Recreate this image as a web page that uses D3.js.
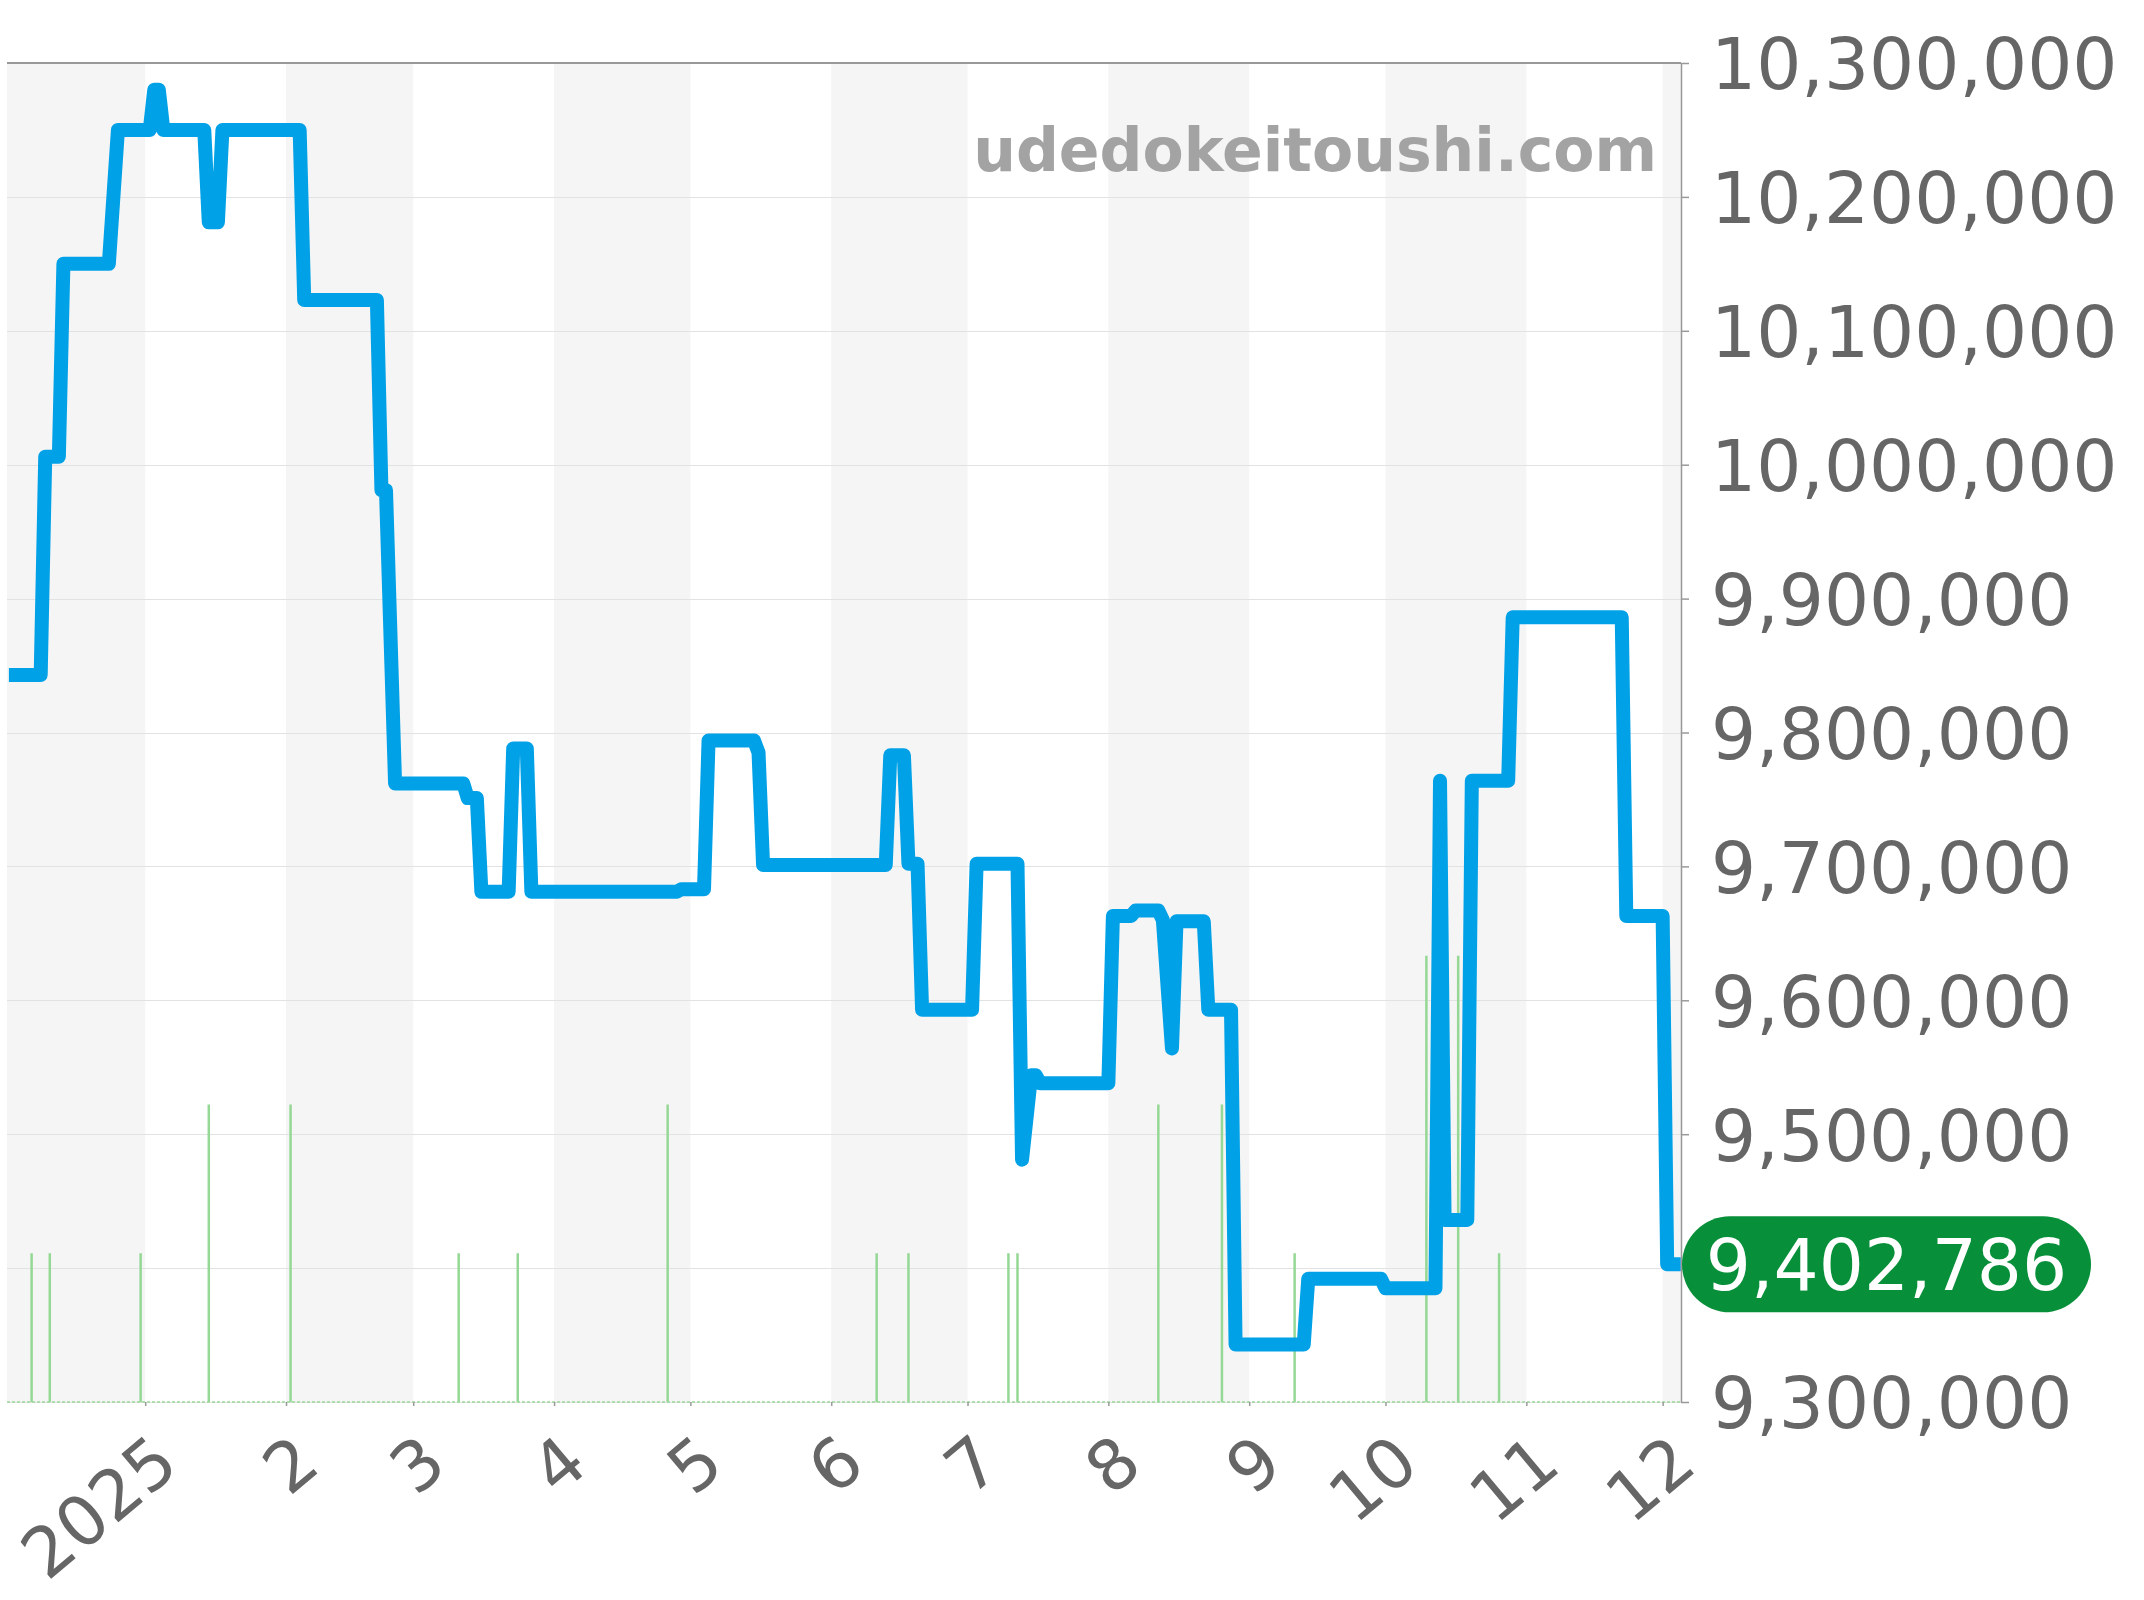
<!DOCTYPE html>
<html>
<head>
<meta charset="utf-8">
<script src="https://cdn.jsdelivr.net/npm/d3@7"></script>
<style>
  body { margin: 0; background: #fff; }
  svg { display: block; }
</style>
</head>
<body>
<div id="plot"></div>
<script>
// price vertices (yen)
var priceDates = [
  "2024-12-02", "2024-12-09", "2024-12-10", "2024-12-13", "2024-12-14", "2024-12-24", "2024-12-26",
  "2025-01-02", "2025-01-03", "2025-01-04", "2025-01-05", "2025-01-14", "2025-01-15", "2025-01-17", "2025-01-18",
  "2025-02-04", "2025-02-05", "2025-02-21", "2025-02-22", "2025-02-23", "2025-02-25",
  "2025-03-12", "2025-03-13", "2025-03-15", "2025-03-16", "2025-03-22", "2025-03-23", "2025-03-26", "2025-03-27",
  "2025-04-28", "2025-04-29", "2025-05-04", "2025-05-05", "2025-05-15", "2025-05-16", "2025-05-17",
  "2025-06-13", "2025-06-14", "2025-06-17", "2025-06-18", "2025-06-20", "2025-06-21",
  "2025-07-02", "2025-07-03", "2025-07-12", "2025-07-13", "2025-07-15", "2025-07-16", "2025-07-17",
  "2025-08-01", "2025-08-02", "2025-08-06", "2025-08-07", "2025-08-12", "2025-08-13", "2025-08-15", "2025-08-16",
  "2025-08-22", "2025-08-23", "2025-08-28", "2025-08-29",
  "2025-09-13", "2025-09-14", "2025-09-30", "2025-10-01", "2025-10-12", "2025-10-13", "2025-10-14",
  "2025-10-19", "2025-10-20", "2025-10-28", "2025-10-29", "2025-11-22", "2025-11-23",
  "2025-12-01", "2025-12-02", "2025-12-05"
];
var prices = [
  9843000, 9843000, 10006000, 10006000, 10150000, 10150000, 10250000,
  10250000, 10280000, 10280000, 10250000, 10250000, 10181000, 10181000, 10250000,
  10250000, 10123000, 10123000, 9981000, 9981000, 9762000,
  9762000, 9751000, 9751000, 9681000, 9681000, 9788000, 9788000, 9681000,
  9681000, 9683000, 9683000, 9794000, 9794000, 9785000, 9701000,
  9701000, 9783000, 9783000, 9702000, 9702000, 9593000,
  9593000, 9702000, 9702000, 9481000, 9544000, 9544000, 9538000,
  9538000, 9663000, 9663000, 9667000, 9667000, 9660000, 9564000, 9659000,
  9659000, 9593000, 9593000, 9343000,
  9343000, 9392000, 9392000, 9385000, 9385000, 9764000, 9436000,
  9436000, 9764000, 9764000, 9886000, 9886000, 9663000,
  9663000, 9402786, 9402786
];

// number of trades per day (green bars)
var volumeDates = [
  "2024-12-07", "2024-12-11", "2024-12-31", "2025-01-15", "2025-02-02", "2025-03-11",
  "2025-03-24", "2025-04-26", "2025-06-11", "2025-06-18", "2025-07-10", "2025-07-12",
  "2025-08-12", "2025-08-26", "2025-09-11", "2025-10-10", "2025-10-17", "2025-10-26"
];
var volumes = [1, 1, 1, 2, 2, 1, 1, 2, 1, 1, 1, 1, 2, 2, 1, 3, 3, 1];

var yTickValues = [9300000, 9400000, 9500000, 9600000, 9700000, 9800000,
  9900000, 10000000, 10100000, 10200000, 10300000];
var monthTicks = ["2025-01-01", "2025-02-01", "2025-03-01", "2025-04-01", "2025-05-01", "2025-06-01",
  "2025-07-01", "2025-08-01", "2025-09-01", "2025-10-01", "2025-11-01", "2025-12-01"];
var monthLabels = ["2025", "2", "3", "4", "5", "6", "7", "8", "9", "10", "11", "12"];

var parseDate = d3.utcParse("%Y-%m-%d");
var priceData = priceDates.map(function(d, i) {
  return { date: parseDate(d), value: prices[i] };
});
var volumeData = volumeDates.map(function(d, i) {
  return { date: parseDate(d), value: volumes[i] };
});
var tickDates = monthTicks.map(parseDate);

var margin = { top: 63, right: 463, bottom: 198, left: 7 };
var width = 2144 - margin.left - margin.right,
  height = 1600 - margin.top - margin.bottom;

var xScale = d3.scaleUtc()
  .domain([new Date(Date.UTC(2024, 11, 1, 14)), new Date(Date.UTC(2025, 11, 5, 1))])
  .range([0, width]);

var yScale = d3.scaleLinear()
  .domain([9300000, 10300000])
  .range([height, 0]);

var volScale = d3.scaleLinear()
  .domain([0, 9])
  .range([height, 0]);

var svg = d3.select("#plot").append("svg")
  .attr("width", 2144)
  .attr("height", 1600)
  .style("font-family", "'DejaVu Sans', sans-serif");

var g = svg.append("g")
  .attr("transform", "translate(" + margin.left + "," + margin.top + ")");

// alternating month bands
var months = d3.utcMonth.range(new Date(Date.UTC(2024, 11, 1)), new Date(Date.UTC(2026, 0, 1)));
g.selectAll(".band")
  .data(months.filter(function(d, i) { return i % 2 === 0; }))
  .enter().append("rect")
  .attr("class", "band")
  .attr("x", function(d) { return Math.max(0, xScale(d)); })
  .attr("y", 0)
  .attr("width", function(d) {
    var x0 = Math.max(0, xScale(d));
    var x1 = Math.min(width, xScale(d3.utcMonth.offset(d, 1)));
    return x1 - x0;
  })
  .attr("height", height)
  .attr("fill", "#f5f5f5");

// grid
g.selectAll(".grid")
  .data(yTickValues.slice(0, -1))
  .enter().append("line")
  .attr("class", "grid")
  .attr("x1", 0)
  .attr("x2", width)
  .attr("y1", function(d) { return Math.round(yScale(d)) + 0.5; })
  .attr("y2", function(d) { return Math.round(yScale(d)) + 0.5; })
  .attr("stroke", "#e2e2e2")
  .attr("stroke-width", 1);

// volume bars
g.selectAll(".vol")
  .data(volumeData)
  .enter().append("line")
  .attr("class", "vol")
  .attr("x1", function(d) { return xScale(d.date); })
  .attr("x2", function(d) { return xScale(d.date); })
  .attr("y1", height)
  .attr("y2", function(d) { return volScale(d.value); })
  .attr("stroke", "#95d895")
  .attr("stroke-width", 2.5);

g.append("line")
  .attr("x1", 0)
  .attr("x2", width)
  .attr("y1", height)
  .attr("y2", height)
  .attr("stroke", "#9ad89a")
  .attr("stroke-width", 1.5)
  .attr("stroke-dasharray", "3,2");

// top border
g.append("line")
  .attr("x1", 0)
  .attr("x2", width)
  .attr("y1", 0)
  .attr("y2", 0)
  .attr("stroke", "#999")
  .attr("stroke-width", 2);

// price line
var plotLine = d3.line()
  .x(function(d) { return xScale(d.date); })
  .y(function(d) { return yScale(d.value); });

g.append("path")
  .datum(priceData)
  .attr("d", plotLine)
  .attr("fill", "none")
  .attr("stroke", "#00a1e7")
  .attr("stroke-width", 14)
  .attr("stroke-linejoin", "round");

var last = priceData[priceData.length - 1];

// right axis
var yAxis = d3.axisRight(yScale)
  .tickValues(yTickValues)
  .tickSize(8)
  .tickSizeOuter(0)
  .tickPadding(22)
  .tickFormat(d3.format(","));

var yAxisG = g.append("g")
  .attr("class", "y axis")
  .attr("transform", "translate(" + width + ",0)")
  .call(yAxis)
  .attr("font-family", null)
  .attr("font-size", null);
yAxisG.select(".domain").attr("stroke", "#999").attr("stroke-width", 1.5);
yAxisG.selectAll(".tick line").attr("stroke", "#999").attr("stroke-width", 1.5);
yAxisG.selectAll(".tick text")
  .attr("dy", "0.365em")
  .style("font-size", "71px")
  .attr("fill", "#666");
// the last-price badge sits over the nearest label
yAxisG.selectAll(".tick text")
  .filter(function(d) { return Math.abs(yScale(d) - yScale(last.value)) < 60; })
  .remove();

// bottom axis
var xAxis = d3.axisBottom(xScale)
  .tickValues(tickDates)
  .tickSize(4)
  .tickSizeOuter(0)
  .tickFormat(function(d, i) { return monthLabels[i]; });

var xAxisG = g.append("g")
  .attr("class", "x axis")
  .attr("transform", "translate(0," + height + ")")
  .call(xAxis)
  .attr("font-family", null)
  .attr("font-size", null);
xAxisG.select(".domain").remove();
xAxisG.selectAll(".tick line").attr("stroke", "#999").attr("stroke-width", 1.5);
xAxisG.selectAll(".tick text")
  .attr("x", 0)
  .attr("y", 0)
  .attr("dy", 0)
  .attr("transform", "translate(36,67) rotate(-40)")
  .style("text-anchor", "end")
  .style("font-size", "69px")
  .attr("fill", "#666");

// watermark
svg.append("text")
  .attr("x", 1657)
  .attr("y", 171)
  .attr("text-anchor", "end")
  .style("font-size", "60px")
  .style("font-weight", "bold")
  .attr("fill", "#a3a3a3")
  .text("udedokeitoushi.com");

// last price badge
var badgeY = margin.top + yScale(last.value);
var badge = svg.append("g");
badge.append("rect")
  .attr("x", 1682)
  .attr("y", badgeY - 48)
  .attr("width", 409)
  .attr("height", 96)
  .attr("rx", 48)
  .attr("fill", "#088f3a");
badge.append("text")
  .attr("x", 1682 + 409 / 2)
  .attr("y", badgeY)
  .attr("dy", "0.365em")
  .attr("text-anchor", "middle")
  .style("font-size", "71px")
  .attr("fill", "#fff")
  .text(d3.format(",")(last.value));
</script>
</body>
</html>
